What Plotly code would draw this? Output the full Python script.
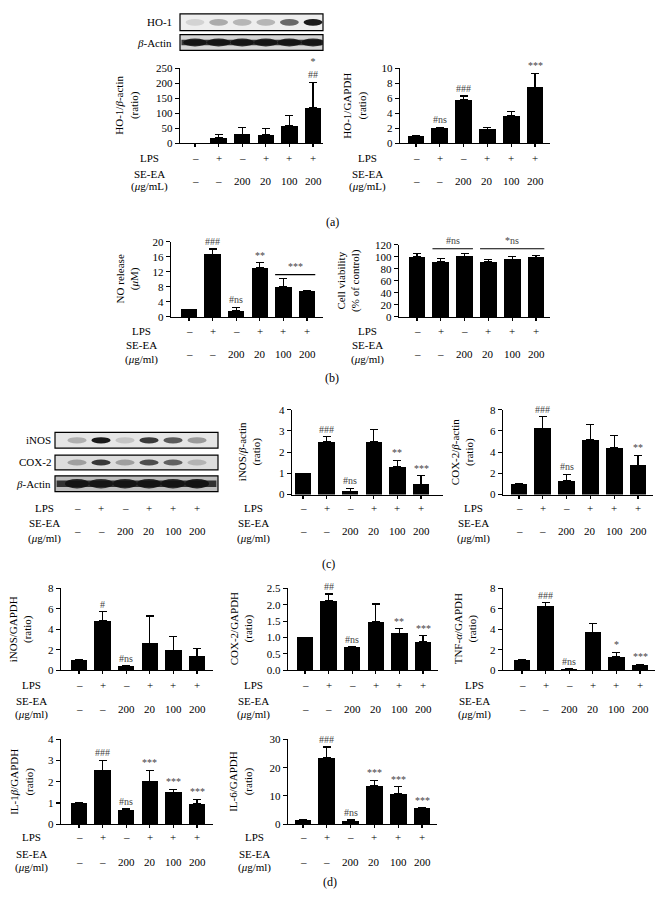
import plotly.graph_objects as go

W, H = 664, 924
SERIF = "Liberation Serif, Times New Roman, serif"


def fx(px):
    return px / W


def fy(py):
    return 1 - py / H


# ---------------- data ----------------
LPS = ["–", "+", "–", "+", "+", "+"]
SEEA = ["–", "–", "200", "20", "100", "200"]

ho1_actin_mean = [0, 17, 30, 27, 58, 118]
ho1_actin_err = [0, 11, 21, 21, 34, 85]
ho1_actin_sig = ["", "", "", "", "", "*<br>##"]

ho1_gapdh_mean = [1.0, 2.0, 5.8, 1.85, 3.65, 7.45]
ho1_gapdh_err = [0, 0.1, 0.5, 0.25, 0.55, 1.85]
ho1_gapdh_sig = ["", "#ns", "###", "", "", "***"]

no_mean = [2.0, 16.7, 1.7, 13.1, 8.0, 6.8]
no_err = [0, 1.4, 0.9, 1.3, 2.3, 0.2]
no_sig = ["", "###", "#ns", "**", "", ""]

via_mean = [100, 92, 101, 92, 96, 99]
via_err = [6, 5, 4, 4, 5, 3]
via_sig = ["", "", "", "", "", ""]

inos_actin_mean = [1.0, 2.48, 0.15, 2.5, 1.3, 0.48]
inos_actin_err = [0, 0.25, 0.15, 0.57, 0.32, 0.4]
inos_actin_sig = ["", "###", "#ns", "", "**", "***"]

cox2_actin_mean = [1.0, 6.25, 1.3, 5.15, 4.4, 2.75]
cox2_actin_err = [0, 1.1, 0.6, 1.45, 1.15, 0.95]
cox2_actin_sig = ["", "###", "#ns", "", "", "**"]

inos_gapdh_mean = [1.0, 4.85, 0.38, 2.65, 1.95, 1.35]
inos_gapdh_err = [0, 0.85, 0.07, 2.65, 1.35, 0.75]
inos_gapdh_sig = ["", "#", "#ns", "", "", ""]

cox2_gapdh_mean = [1.0, 2.12, 0.7, 1.47, 1.13, 0.87]
cox2_gapdh_err = [0, 0.21, 0.02, 0.55, 0.14, 0.18]
cox2_gapdh_sig = ["", "##", "#ns", "", "**", "***"]

tnf_gapdh_mean = [1.0, 6.25, 0.12, 3.7, 1.3, 0.48]
tnf_gapdh_err = [0, 0.35, 0.05, 0.9, 0.45, 0.1]
tnf_gapdh_sig = ["", "###", "#ns", "", "*", "***"]

il1_gapdh_mean = [1.0, 2.55, 0.67, 2.03, 1.5, 0.97]
il1_gapdh_err = [0, 0.47, 0.06, 0.52, 0.15, 0.21]
il1_gapdh_sig = ["", "###", "#ns", "***", "***", "***"]

il6_gapdh_mean = [1.5, 23.5, 1.0, 13.5, 10.8, 5.6]
il6_gapdh_err = [0, 3.8, 0.5, 2.0, 2.4, 0.3]
il6_gapdh_sig = ["", "###", "#ns", "***", "***", "***"]

# blot band intensities (0..1)
ho1_band = [0.12, 0.3, 0.25, 0.25, 0.6, 0.95]
actin_a_band = [0.85, 0.85, 0.85, 0.85, 0.85, 0.85]
inos_band = [0.25, 0.95, 0.15, 0.8, 0.65, 0.35]
cox2_band = [0.3, 0.8, 0.3, 0.7, 0.6, 0.2]
actin_c_band = [0.85, 0.8, 0.85, 0.85, 0.85, 0.9]

# ---------------- layout config ----------------
panels = [
    dict(mean=ho1_actin_mean, err=ho1_actin_err, sig=ho1_actin_sig,
         ax=180, end=323, b0=195, b5=313, y0=139, yt=63, ymax=250, dt=50,
         title="HO-1/<i>β</i>-actin<br>(ratio)", tx=127, row="a", lx=149),
    dict(mean=ho1_gapdh_mean, err=ho1_gapdh_err, sig=ho1_gapdh_sig,
         ax=400, end=550, b0=416, b5=535, y0=139, yt=63, ymax=10, dt=2,
         title="HO-1/GAPDH<br>(ratio)", tx=355, row="a", lx=367),
    dict(mean=no_mean, err=no_err, sig=no_sig,
         ax=171, end=323, b0=189, b5=307, y0=315, yt=239, ymax=20, dt=4,
         title="NO release<br>(<i>μ</i>M)", tx=127, row="b", lx=141),
    dict(mean=via_mean, err=via_err, sig=via_sig,
         ax=399, end=550, b0=417, b5=536, y0=315, yt=242, ymax=120, dt=20,
         title="Cell viability<br>(% of control)", tx=349, row="b", lx=367),
    dict(mean=inos_actin_mean, err=inos_actin_err, sig=inos_actin_sig,
         ax=292, end=443, b0=303, b5=421, y0=495, yt=409, ymax=4, dt=1,
         title="iNOS/<i>β</i>-actin<br>(ratio)", tx=249, row="c", lx=253),
    dict(mean=cox2_actin_mean, err=cox2_actin_err, sig=cox2_actin_sig,
         ax=503, end=653, b0=519, b5=638, y0=495, yt=409, ymax=8, dt=2,
         title="COX-2/<i>β</i>-actin<br>(ratio)", tx=462, row="c", lx=473),
    dict(mean=inos_gapdh_mean, err=inos_gapdh_err, sig=inos_gapdh_sig,
         ax=61, end=213, b0=79, b5=197, y0=673, yt=590, ymax=8, dt=2,
         title="iNOS/GAPDH<br>(ratio)", tx=20, row="d1", lx=31),
    dict(mean=cox2_gapdh_mean, err=cox2_gapdh_err, sig=cox2_gapdh_sig,
         ax=288, end=438, b0=305, b5=423, y0=673, yt=590, ymax=2.5, dt=0.5,
         title="COX-2/GAPDH<br>(ratio)", tx=241, row="d1", lx=253, fmt=".1f"),
    dict(mean=tnf_gapdh_mean, err=tnf_gapdh_err, sig=tnf_gapdh_sig,
         ax=503, end=655, b0=522, b5=640, y0=673, yt=590, ymax=8, dt=2,
         title="TNF-<i>α</i>/GAPDH<br>(ratio)", tx=465, row="d1", lx=474),
    dict(mean=il1_gapdh_mean, err=il1_gapdh_err, sig=il1_gapdh_sig,
         ax=61, end=213, b0=79, b5=197, y0=829, yt=743, ymax=4, dt=1,
         title="IL-1<i>β</i>/GAPDH<br>(ratio)", tx=22, row="d2", lx=31),
    dict(mean=il6_gapdh_mean, err=il6_gapdh_err, sig=il6_gapdh_sig,
         ax=288, end=437, b0=303, b5=422, y0=829, yt=743, ymax=30, dt=10,
         title="IL-6/GAPDH<br>(ratio)", tx=241, row="d2", lx=254),
]

rows = {
    "a": (154, 170, 177, 183, "(<i>μ</i>g/mL)"),
    "b": (329, 343, 353, 358, "(<i>μ</i>g/ml)"),
    "c": (509, 524, 532, 539, "(<i>μ</i>g/ml)"),
    "d1": (688, 704, 712, 718, "(<i>μ</i>g/ml)"),
    "d2": (842, 859, 867, 873, "(<i>μ</i>g/ml)"),
}

fig = go.Figure()
annotations = []
shapes = []
layout_axes = {}

cats = list(range(len(LPS)))
TXT = dict(family=SERIF, size=11, color="black")


def add_rows(xref, rowkey, label_x):
    ly, sy, vy, uy, unit = rows[rowkey]
    for i in cats:
        annotations.append(dict(x=i, xref=xref, y=fy(ly), yref="paper", text=LPS[i],
                                showarrow=False, font=TXT, yanchor="middle"))
        annotations.append(dict(x=i, xref=xref, y=fy(vy), yref="paper", text=SEEA[i],
                                showarrow=False, font=TXT, yanchor="middle"))
    for txt, yy in (("LPS", ly), ("SE-EA", sy), (unit, uy)):
        annotations.append(dict(x=fx(label_x), xref="paper", y=fy(yy), yref="paper", text=txt,
                                showarrow=False, font=TXT, xanchor="center", yanchor="middle"))


for n, p in enumerate(panels, start=1):
    xa = "x" if n == 1 else f"x{n}"
    ya = "y" if n == 1 else f"y{n}"
    s = (p["b5"] - p["b0"]) / 5
    lo = -(p["b0"] - p["ax"]) / s
    hi = 5 + (p["end"] - p["b5"]) / s
    fig.add_trace(go.Bar(
        x=cats, y=p["mean"], xaxis=xa, yaxis=ya, width=0.7,
        marker=dict(color="black", line=dict(width=0)),
        error_y=dict(type="data", symmetric=False, array=p["err"],
                     arrayminus=[0] * 6, color="black", thickness=1.2, width=4),
        showlegend=False, hoverinfo="skip"))
    xkey = "xaxis" if n == 1 else f"xaxis{n}"
    ykey = "yaxis" if n == 1 else f"yaxis{n}"
    layout_axes[xkey] = dict(domain=[fx(p["ax"]), fx(p["end"])], range=[lo, hi], anchor=ya,
                             showline=True, linecolor="black", linewidth=1.2, ticks="outside",
                             tickvals=cats, ticklen=3, tickwidth=1.1, tickcolor="black",
                             showticklabels=False, showgrid=False, zeroline=False)
    layout_axes[ykey] = dict(domain=[fy(p["y0"]), fy(p["yt"])], range=[0, p["ymax"]], anchor=xa,
                             dtick=p["dt"], tick0=0, showline=True, linecolor="black",
                             linewidth=1.2, ticks="outside", ticklen=4, tickwidth=1.1,
                             tickcolor="black", showgrid=False, zeroline=False,
                             tickfont=dict(family=SERIF, size=11, color="black"),
                             tickformat=p.get("fmt", ""))
    annotations.append(dict(x=fx(p["tx"]), xref="paper", y=fy((p["y0"] + p["yt"]) / 2), yref="paper",
                            text=p["title"], textangle=-90, showarrow=False, font=TXT,
                            xanchor="center", yanchor="middle"))
    for i in cats:
        if p["sig"][i]:
            annotations.append(dict(x=i, xref=xa, y=p["mean"][i] + p["err"][i], yref=ya,
                                    text=p["sig"][i], showarrow=False, yanchor="bottom", yshift=0,
                                    font=dict(family=SERIF, size=10, color="#444")))
    add_rows(xa, p["row"], p["lx"])

brackets = [
    ("x3", "y3", 4, 5, 11.3, "***"),
    ("x4", "y4", 1, 2, 113.5, "#ns"),
    ("x4", "y4", 3, 5, 113.5, "*ns"),
]
for xa, ya, a, b, yv, txt in brackets:
    shapes.append(dict(type="line", xref=xa, yref=ya, x0=a - 0.35, x1=b + 0.35, y0=yv, y1=yv,
                       line=dict(color="black", width=1.2)))
    annotations.append(dict(x=(a + b) / 2, xref=xa, y=yv, yref=ya, text=txt, showarrow=False,
                            yanchor="bottom", yshift=1, font=dict(family=SERIF, size=10, color="#444")))

NB = len(panels) + 1
s_c = 24.0
fig.add_trace(go.Scatter(x=[0, 5], y=[0, 0], xaxis=f"x{NB}", yaxis=f"y{NB}", mode="markers",
                         marker=dict(opacity=0), showlegend=False, hoverinfo="skip"))
layout_axes[f"xaxis{NB}"] = dict(domain=[fx(55), fx(218)], range=[-(77 - 55) / s_c, 5 + (218 - 197) / s_c],
                                 visible=False, anchor=f"y{NB}")
layout_axes[f"yaxis{NB}"] = dict(domain=[fy(492), fy(432)], range=[0, 1], visible=False, anchor=f"x{NB}")


def blot(xref, top, bottom, bands, bg, label, label_x, bh=0.45, bw=0.8, base=None):
    shapes.append(dict(type="rect", xref=f"{xref} domain", yref="paper", x0=0, x1=1,
                       y0=fy(bottom), y1=fy(top), fillcolor=bg, line=dict(color="black", width=1.2),
                       layer="below"))
    mid = (top + bottom) / 2
    hh = (bottom - top) * bh / 2
    if base is not None:
        shapes.append(dict(type="rect", xref=f"{xref} domain", yref="paper", x0=0.01, x1=0.99,
                           y0=fy(mid + hh * 0.7), y1=fy(mid - hh * 0.7), line=dict(width=0),
                           fillcolor=f"rgba(15,15,15,{base})"))
    for i in cats:
        shapes.append(dict(type="circle", xref=xref, yref="paper", x0=i - bw / 2, x1=i + bw / 2,
                           y0=fy(mid + hh), y1=fy(mid - hh), line=dict(width=0),
                           fillcolor=f"rgba(15,15,15,{bands[i]})"))
    annotations.append(dict(x=fx(label_x), xref="paper", y=fy(mid), yref="paper", text=label,
                            showarrow=False, xanchor="right", yanchor="middle", font=TXT))


blot("x", 8, 25, ho1_band, "#eeeeee", "HO-1", 174, bh=0.4)
blot("x", 29, 45, actin_a_band, "#d5d5d5", "<i>β</i>-Actin", 174, bh=0.5, bw=1.0, base=0.8)
blot(f"x{NB}", 432, 448, inos_band, "#e6e6e6", "iNOS", 53, bh=0.4)
blot(f"x{NB}", 455, 470, cox2_band, "#dddddd", "COX-2", 53, bh=0.4)
blot(f"x{NB}", 476, 492, actin_c_band, "#bdbdbd", "<i>β</i>-Actin", 53, bh=0.6, bw=1.0, base=0.8)
add_rows(f"x{NB}", "c", 44)

for txt, x, y in (("(a)", 332, 210), ("(b)", 332, 377), ("(c)", 328, 565), ("(d)", 330, 897)):
    annotations.append(dict(x=fx(x), xref="paper", y=fy(y), yref="paper", text=txt, showarrow=False,
                            font=dict(family=SERIF, size=12, color="black")))

fig.update_layout(width=W, height=H, margin=dict(l=0, r=0, t=0, b=0),
                  paper_bgcolor="white", plot_bgcolor="rgba(0,0,0,0)", hovermode=False,
                  annotations=annotations, shapes=shapes, bargap=0, **layout_axes)
fig.write_html("out.html", config={"displayModeBar": False, "staticPlot": True},
               post_script="document.body.style.margin='0';document.body.style.padding='0';"
                           "document.body.style.overflow='hidden';")
